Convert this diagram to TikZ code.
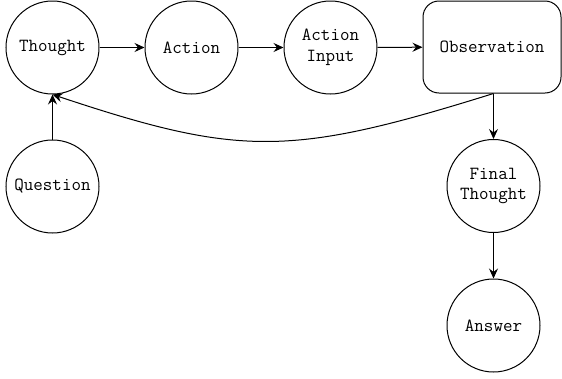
\documentclass[tikz,border=0pt]{standalone}
\usetikzlibrary{arrows.meta}
\begin{document}
\begin{tikzpicture}[x=1pt,y=-1pt,
  every node/.style={font=\ttfamily\fontsize{18.5}{20.5}\selectfont, align=center},
  circ/.style={draw, circle, line width=1pt, minimum size=93pt, inner sep=0pt},
  rbox/.style={draw, rounded corners=16pt, line width=1pt, minimum width=138pt, minimum height=92pt, inner sep=0pt},
  arr/.style={line width=1pt, -{Stealth[length=10pt,width=9pt,inset=3.5pt]}}]
\useasboundingbox (0,0) rectangle (562,378);
\node[circ] (thought) at (52.5,47.5) {Thought};
\node[circ] (action) at (191.5,47.5) {Action};
\node[circ] (input) at (330.5,47.5) {Action\\Input};
\node[rbox] (obs) at (492,47) {Observation};
\node[circ] (question) at (52.5,186.5) {Question};
\node[circ] (final) at (493.5,186) {Final\\Thought};
\node[circ] (answer) at (493.5,325.5) {Answer};
\draw[arr] (thought) -- (action);
\draw[arr] (action) -- (input);
\draw[arr] (input) -- (obs);
\draw[arr] (question) -- (thought);
\draw[arr] (obs.south -| final.north) -- (final.north);
\draw[arr] (final) -- (answer);
\draw[arr] (obs.south -| final.north) .. controls (290,157) and (240,157) .. (thought.south);
\end{tikzpicture}
\end{document}
